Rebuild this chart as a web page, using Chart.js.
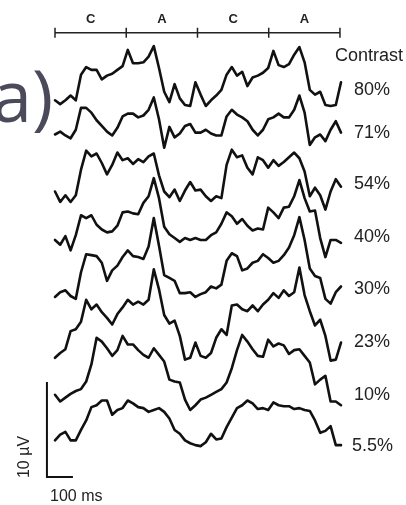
<!DOCTYPE html>
<html>
<head>
<meta charset="utf-8">
<script src="https://cdn.jsdelivr.net/npm/chart.js@4.4.0/dist/chart.umd.min.js"></script>
<style>
  html, body { margin: 0; padding: 0; background: #fff; }
  #wrap { width: 406px; height: 505px; }
</style>
</head>
<body>
<div id="wrap"><canvas id="myChart" width="406" height="505"></canvas></div>
<script>
// tiempos de muestreo (ms)
const tiempos = [0,20,40,60,80,100,120,140,160,180,200,220,240,260,280,300,320,340,360,380,
  400,420,440,460,480,500,520,540,560,580,600,620,640,660,680,700,720,740,760,780,
  800,820,840,860,880,900,920,940,960,980,1000,1020,1040,1060,1080,1100];

const contrastes = ['80%', '71%', '54%', '40%', '30%', '23%', '10%', '5.5%'];
// linea base de cada trazo (µV)
const lineasBase = [43.7, 39.2, 33.9, 28.2, 22.8, 17.2, 11.6, 6.3];

// respuestas (µV) relativas a su linea base
const c80 = [-1.1,-1.5,-1.1,-0.6,-1.1,1.6,2.4,2.1,2.1,1.1,1.5,1.7,2.1,2.5,4.2,2.8,2.8,2.9,3.5,4.6,
  2.3,-0.2,-1.3,0.6,-0.9,-1.6,-1.7,0.8,-0.5,-1.7,-1.1,-0.6,0,1.6,2.4,1.5,1.9,0.4,1.3,1.5,
  1.8,2.3,4.1,2.6,2.4,2.7,3.7,4.5,2.9,0,-0.5,-0.2,-1.6,-1.7,-1.6,0.8];
const c71 = [-0.2,0.1,-0.3,-0.6,0.3,2.6,2.6,2.1,1.3,0.7,0.1,-0.3,0.5,1.7,2.0,2.0,1.6,1.8,2.4,3.7,
  1.4,-1.6,0.6,-0.5,-0.1,0.7,0.9,0,0,0.3,-0.1,-0.3,-0.3,1.7,2.4,1.9,1.6,1.2,0.3,-0.3,
  0.3,1.4,1.6,2.0,1.6,1.6,2.4,3.9,2.1,-1.3,-0.5,-0.2,-0.9,0.3,1.2,0];
const c54 = [-0.9,-2.0,-1.3,-2.0,-1.3,1.4,3.4,2.8,3.1,2.1,0.9,1.9,3.2,2.4,2.6,2.0,2.5,2.2,2.8,3.1,
  0.8,-0.9,-1.5,-0.7,-1.9,-0.8,0.1,-0.8,-0.7,-1.4,-1.9,-1.4,-1.6,1.9,3.5,2.7,2.9,1.6,0.9,2.7,
  2.4,1.6,2.4,1.8,2.2,2.7,3.2,2.6,1.2,-1.4,-0.5,-1.3,-2.8,-0.9,0.4,-0.4];
const c40 = [-0.3,-0.8,0.1,-1.4,0.2,2.3,2.0,2.3,1.3,0.8,0.5,0.6,1.2,2.6,2.7,2.5,2.4,3.6,4.3,6.2,
  4.1,1.1,0.3,-0.1,-0.5,-0.1,-0.3,-0.1,-0.3,-0.3,0.2,0.5,1.4,2.6,2.2,1.4,1.9,1.2,0.7,0.9,
  0.8,3.1,2.6,2.0,3.1,3.2,4.3,6.0,4.1,2.7,2.8,-0.1,-2.1,-0.3,-0.3,-0.6];
const c30 = [-0.9,-0.4,-0.2,-0.8,-1.1,1.7,3.6,3.5,3.4,2.7,0.8,1.9,2.4,3.3,4.0,3.4,3.3,3.1,4.4,7.4,
  4.5,1.4,1.1,0.8,-0.5,-0.5,-0.4,-0.9,-0.6,-0.4,0.2,0,0.4,2.9,3.7,3.4,1.9,2.1,2.7,2.9,
  3.6,3.2,2.7,2.9,3.5,4.3,5.6,7.5,5.1,2.1,1.3,1.1,-1.1,-1.6,-0.4,0.2];
const c23 = [-1.7,-1.2,-0.8,1.1,1.3,2.1,4.4,3.4,3.9,3.1,2.5,1.8,2.9,3.6,4.4,3.9,4.2,3.9,4.4,7.6,
  5.5,2.8,1.9,2.2,0.6,-1.9,-1.7,-0.1,-1.5,-1.7,-1.2,0.4,1.3,0.7,3.8,3.9,3.4,3.2,3.8,3.2,
  3.9,4.4,5.1,4.6,5.4,4.8,5.2,7.8,4.9,3.2,1.7,2.3,0.6,-2.0,-1.9,-0.1];
const c10 = [0,-0.7,-0.3,0.1,0.4,0.6,1.4,3.2,6.0,5.6,4.9,4.1,4.7,6.2,5.3,5.3,4.7,4.2,3.9,4.9,
  4.2,3.5,1.6,1.4,1.3,-0.5,-1.6,-1.1,-0.5,-0.3,0,0.3,0.6,1.3,2.8,4.7,6.3,5.6,4.8,4.1,
  4.0,5.8,5.1,5.4,5.2,4.3,4.7,4.8,4.1,3.4,1.1,1.6,2.0,-0.7,-0.7,-1.1];
const c5 = [0.5,1.1,1.4,0.5,0.5,1.6,2.6,4.0,4.2,4.7,4.7,3.2,3.7,3.9,4.7,4.4,4.0,3.9,3.5,3.7,
  3.9,3.5,2.8,1.6,1.2,0.5,0.2,0,-0.1,0.3,1.2,0.6,0.7,1.9,2.9,3.9,4.2,4.7,4.4,3.8,
  3.9,3.7,4.5,4.2,4.1,4.1,3.8,3.9,3.7,3.6,2.6,1.3,1.5,2.0,0,0];

const respuestas = [c80, c71, c54, c40, c30, c23, c10, c5];

// ciclo del estimulo (ms) y etiquetas
const cicloMs = [0, 274, 548, 822, 1096];
const cicloEtiquetas = ['C', 'A', 'C', 'A'];

// barra de escala
const escalaMs = 100;
const escalaUv = 10;

const canvas = document.getElementById('myChart');
const pxPorMs = 0.26;
const pxPorUv = 9.5;

const datasets = respuestas.map((serie, k) => ({
  data: serie.map((v, i) => ({ x: tiempos[i], y: lineasBase[k] + v })),
  borderColor: '#111',
  borderWidth: 2.6,
  pointRadius: 0,
  tension: 0,
  borderJoinStyle: 'round',
  borderCapStyle: 'round',
  fill: false
}));

// barra de escala como dataset (esquina abajo a la izquierda)
const escX = -31, escY = 2.95;
datasets.push({
  data: [{ x: escX, y: escY + escalaUv }, { x: escX, y: escY }, { x: escX + escalaMs, y: escY }],
  borderColor: '#111',
  borderWidth: 2,
  pointRadius: 0,
  tension: 0,
  fill: false
});

const textos = {
  id: 'textos',
  afterDraw(chart) {
    const ctx = chart.ctx;
    const xs = chart.scales.x;
    const ys = chart.scales.y;
    ctx.save();

    // barra superior C / A
    const yBar = ys.getPixelForValue(49.7);
    ctx.strokeStyle = '#222';
    ctx.lineWidth = 1.5;
    ctx.beginPath();
    ctx.moveTo(xs.getPixelForValue(cicloMs[0]), yBar);
    ctx.lineTo(xs.getPixelForValue(cicloMs[cicloMs.length - 1]), yBar);
    cicloMs.forEach(t => {
      const px = xs.getPixelForValue(t);
      ctx.moveTo(px, yBar - 5);
      ctx.lineTo(px, yBar + 5);
    });
    ctx.stroke();

    ctx.fillStyle = '#222';
    ctx.font = 'bold 13px "Liberation Sans", Arial, sans-serif';
    ctx.textAlign = 'center';
    ctx.textBaseline = 'alphabetic';
    cicloEtiquetas.forEach((lab, i) => {
      const px = (xs.getPixelForValue(cicloMs[i]) + xs.getPixelForValue(cicloMs[i + 1])) / 2;
      ctx.fillText(lab, px, yBar - 10);
    });

    // etiquetas de contraste
    ctx.font = '18px "Liberation Sans", Arial, sans-serif';
    ctx.textAlign = 'left';
    ctx.textBaseline = 'middle';
    ctx.fillText('Contrast', 335, 56);
    const yEtiq = [90, 133, 184, 237, 289, 342, 395, 446];
    contrastes.forEach((c, k) => {
      ctx.fillText(c, c === '5.5%' ? 352 : 354, yEtiq[k]);
    });

    // textos de la barra de escala
    ctx.font = '16px "Liberation Sans", Arial, sans-serif';
    ctx.fillText('100 ms', 50, 497);
    ctx.save();
    ctx.translate(25, 457);
    ctx.rotate(-Math.PI / 2);
    ctx.textAlign = 'center';
    ctx.fillText('10 µV', 0, 0);
    ctx.restore();

    // rotulo del panel
    ctx.fillStyle = '#4a4a5a';
    ctx.font = '72px "Open Sans", sans-serif';
    ctx.textBaseline = 'alphabetic';
    ctx.textAlign = 'left';
    ctx.fillText('a)', -8, 122);

    ctx.restore();
  }
};

new Chart(canvas.getContext('2d'), {
  type: 'line',
  data: { datasets: datasets },
  options: {
    responsive: false,
    animation: false,
    devicePixelRatio: 1,
    layout: { padding: 0 },
    plugins: { legend: { display: false }, tooltip: { enabled: false } },
    scales: {
      x: { type: 'linear', display: false, min: -55 / pxPorMs, max: (406 - 55) / pxPorMs },
      y: { type: 'linear', display: false, min: 0, max: 505 / pxPorUv }
    }
  },
  plugins: [textos]
});
</script>
</body>
</html>
